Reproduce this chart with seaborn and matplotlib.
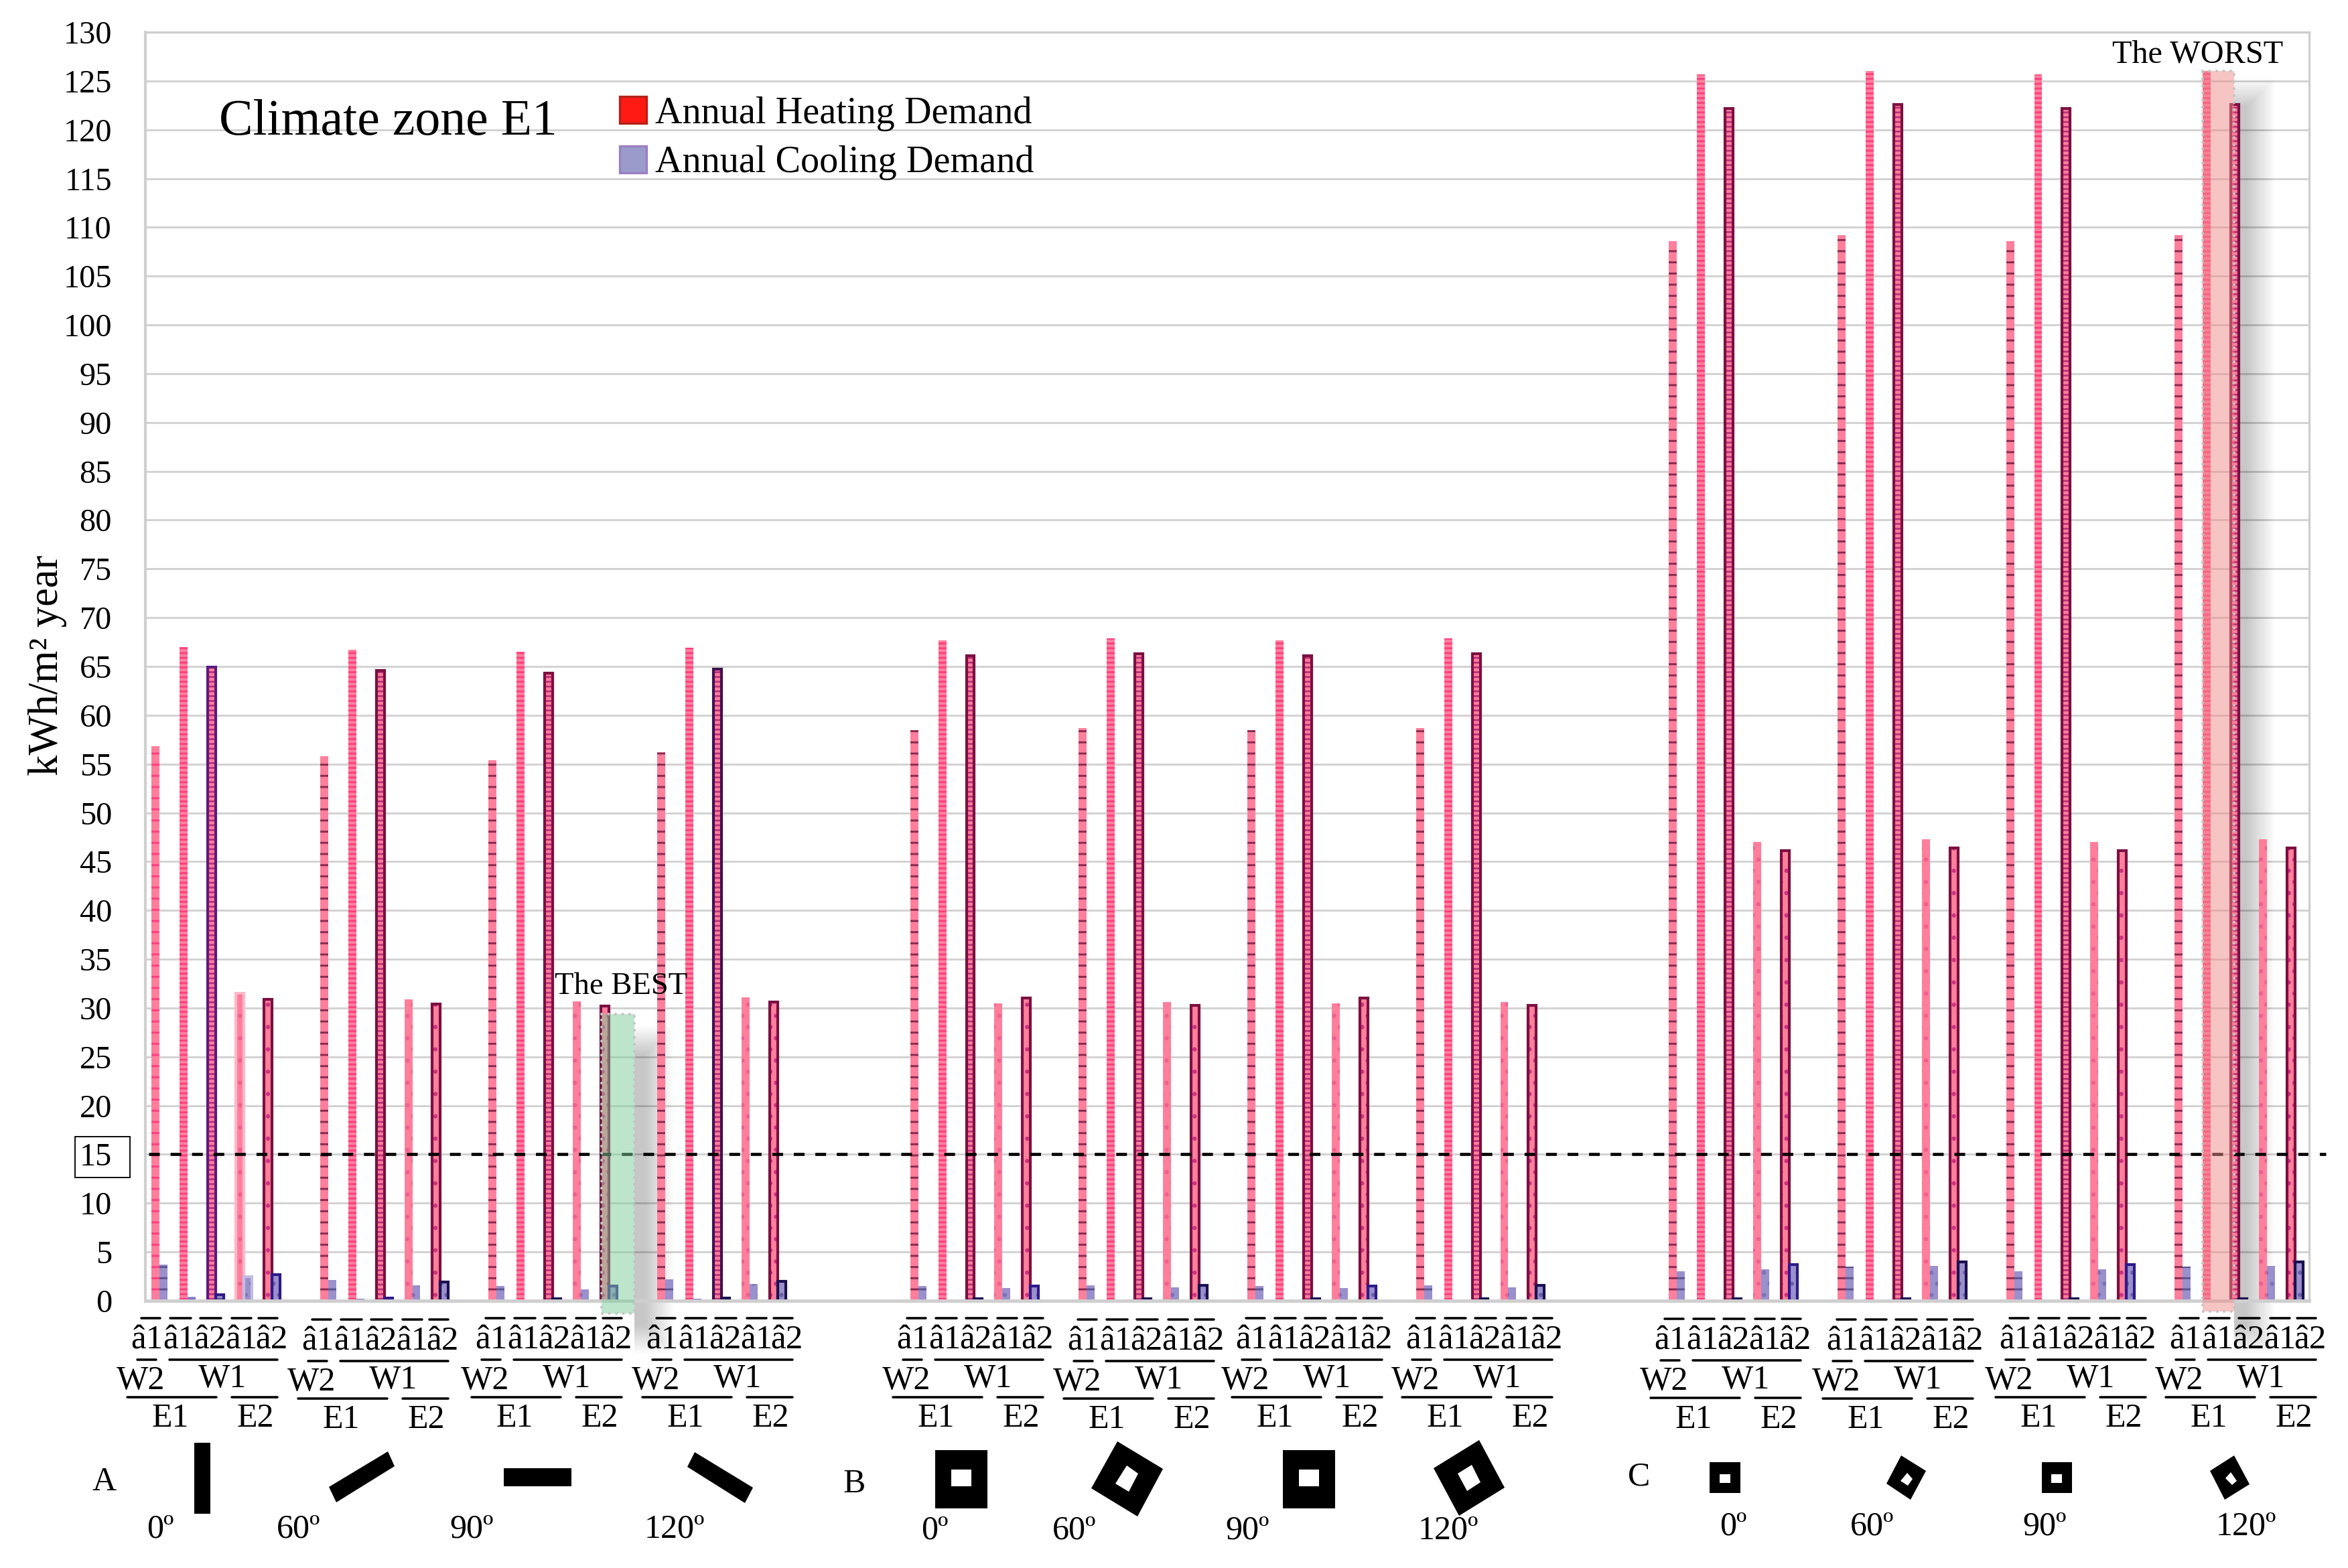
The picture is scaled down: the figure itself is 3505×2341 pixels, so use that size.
import pandas as pd
import seaborn as sns
import matplotlib.pyplot as plt
from matplotlib.lines import Line2D
from matplotlib.patches import Patch, Polygon, Rectangle
from matplotlib.transforms import Affine2D

heating_A = [56.8, 67.0, 64.9, 31.5, 30.9,
             55.8, 66.7, 64.6, 30.9, 30.4,
             55.4, 66.5, 64.3, 30.7, 30.2,
             56.2, 66.9, 64.7, 31.1, 30.6]
cooling_A = [3.7, 0.4, 0.6, 2.5, 2.7,
             2.1, 0.2, 0.3, 1.6, 1.9,
             1.5, 0.1, 0.2, 1.2, 1.5,
             2.2, 0.2, 0.3, 1.7, 2.0]
heating_B = [58.5, 67.7, 66.1, 30.5, 31.0,
             58.7, 67.9, 66.3, 30.6, 30.3,
             58.5, 67.7, 66.1, 30.5, 31.0,
             58.7, 67.9, 66.3, 30.6, 30.3]
cooling_B = [1.5, 0.1, 0.2, 1.3, 1.5,
             1.6, 0.1, 0.2, 1.4, 1.6,
             1.5, 0.1, 0.2, 1.3, 1.5,
             1.6, 0.1, 0.2, 1.4, 1.6]
heating_C = [108.6, 125.7, 122.2, 47.0, 46.1,
             109.2, 126.0, 122.6, 47.3, 46.4,
             108.6, 125.7, 122.2, 47.0, 46.1,
             109.2, 126.0, 122.6, 47.3, 46.4]
cooling_C = [3.0, 0.1, 0.2, 3.2, 3.7,
             3.5, 0.1, 0.2, 3.6, 4.0,
             3.0, 0.1, 0.2, 3.2, 3.7,
             3.5, 0.1, 0.2, 3.6, 4.0]

group_starts = [0, 6, 12, 18, 27, 33, 39, 45, 54, 60, 66, 72]
n_slots = 77
series_names = ["Annual Heating Demand", "Annual Cooling Demand"]
beta_labels = ["â1", "â1", "â2", "â1", "â2"]
y_ticks = list(range(0, 135, 5))

# measured first-dash position of each group's label block, reference pixels
label_anchors = [(225, 1968), (480, 1970), (739, 1968), (994, 1968),
                 (1368, 1968), (1623, 1970), (1874, 1968), (2128, 1968),
                 (2499, 1969), (2756, 1970), (3014, 1968), (3268, 1968)]
angle_labels = [("0º", 239, 2296), ("60º", 446, 2296), ("90º", 704, 2296), ("120º", 1007, 2296),
                ("0º", 1395, 2298), ("60º", 1604, 2298), ("90º", 1862, 2298), ("120º", 2162, 2298),
                ("0º", 2587, 2292), ("60º", 2795, 2292), ("90º", 3052, 2292), ("120º", 3353, 2292)]
letters = [("A", 156, 2225), ("B", 1275, 2228), ("C", 2447, 2218)]

icons_black = [
    [(290, 2154), (314, 2154), (314, 2260), (290, 2260)],
    [(579, 2167), (589, 2189), (502, 2243), (491, 2220)],
    [(752, 2192), (853, 2192), (853, 2219), (752, 2219)],
    [(1037, 2168), (1124, 2221), (1112, 2244), (1026, 2190)],
    [(1396, 2165), (1474, 2165), (1474, 2252), (1396, 2252)],
    [(1668, 2152), (1736, 2193), (1698, 2264), (1629, 2222)],
    [(1915, 2165), (1993, 2165), (1993, 2252), (1915, 2252)],
    [(2208, 2150), (2246, 2221), (2178, 2263), (2140, 2192)],
    [(2552, 2183), (2598, 2183), (2598, 2229), (2552, 2229)],
    [(2838, 2173), (2875, 2196), (2852, 2239), (2816, 2215)],
    [(3048, 2183), (3093, 2183), (3093, 2229), (3048, 2229)],
    [(3335, 2173), (3358, 2216), (3321, 2239), (3299, 2196)],
]
icons_white = [
    [(1420, 2194), (1450, 2194), (1450, 2219), (1420, 2219)],
    [(1682, 2188), (1699, 2200), (1685, 2227), (1665, 2215)],
    [(1939, 2194), (1969, 2194), (1969, 2219), (1939, 2219)],
    [(2197, 2187), (2210, 2213), (2190, 2226), (2176, 2200)],
    [(2567, 2201), (2583, 2201), (2583, 2214), (2567, 2214)],
    [(2847, 2199), (2855, 2208), (2848, 2218), (2837, 2211)],
    [(3062, 2201), (3078, 2201), (3078, 2214), (3062, 2214)],
    [(3330, 2198), (3339, 2211), (3332, 2217), (3322, 2207)],
]

heating = heating_A + heating_B + heating_C
cooling = cooling_A + cooling_B + cooling_C
slots = [s + i for s in group_starts for i in range(5)]

df = pd.DataFrame({
    "slot": slots * 2,
    "value": heating + cooling,
    "series": [series_names[0]] * len(slots) + [series_names[1]] * len(slots),
})

W, H = 3505, 2341
sns.set_theme(style="white")
plt.rcParams["font.family"] = ["Liberation Serif", "DejaVu Serif"]
plt.rcParams["hatch.linewidth"] = 0.7

fig = plt.figure(figsize=(W / 300, H / 300), dpi=300)
ax = fig.add_axes([217 / W, (H - 1942) / H, 3230 / W, 1894 / H])
PX = Affine2D().scale(1 / W, -1 / H).translate(0, 1) + fig.transFigure

sns.barplot(data=df, x="slot", y="value", hue="series", order=list(range(n_slots)),
            hue_order=series_names, width=0.57, gap=0, dodge=True, legend=False, ax=ax)

ax.set_xlim(-0.5, n_slots - 0.5)
ax.set_ylim(0, 130)
ax.set_xticks([])
ax.set_xlabel("")
ax.set_ylabel("")
ax.set_yticks(y_ticks)
ax.set_yticklabels([str(t) for t in y_ticks], fontsize=11.6)
ax.tick_params(axis="y", length=0, pad=12, labelcolor="black")
ax.grid(axis="y", color="#d2d2d2", lw=0.7)
ax.set_axisbelow(True)
for name, spine in ax.spines.items():
    spine.set_visible(True)
    spine.set_color("#cfcfcf")
    spine.set_linewidth({"bottom": 1.2, "left": 1.0}.get(name, 0.8))

fill = ["#fe7f9c", "#9a90cc"]
pink_hatch = "#ff3f7f"
dark_hatch = "#8a2a50"
maroon = "#7a1040"

# bar styling by position within the five-bar cluster
for s_i, container in enumerate(ax.containers):
    for bar in container:
        slot = int(round(bar.get_x() + bar.get_width() / 2))
        group = max(g for g, s in enumerate(group_starts) if s <= slot)
        pos = slot - group_starts[group]
        bar.set_facecolor(fill[s_i])
        bar.set_linewidth(0)
        bar.set_zorder(2)
        outline = None
        if pos == 0:
            bar.set_hatch("---")
            if s_i == 0:
                bar.set_edgecolor(pink_hatch if group == 0 else dark_hatch)
            else:
                bar.set_edgecolor("#5a5590")
        elif pos == 1:
            bar.set_hatch("-" * 7)
            bar.set_edgecolor(pink_hatch if s_i == 0 else "#7c6fc0")
        elif pos == 2:
            bar.set_hatch("-" * 7)
            bar.set_edgecolor("#c0307a" if s_i == 0 else "#5a5590")
            if s_i == 0:
                outline = "#5c1a80" if group == 0 else ("#3e1150" if group == 3 else maroon)
            else:
                outline = "#2e1a8a" if group < 2 else "#1a1050"
        elif pos == 3:
            bar.set_hatch("...")
            bar.set_edgecolor("#f0608c" if s_i == 0 else "#7c72b8")
            if group == 0:
                outline = "#ffb6c8" if s_i == 0 else "#c4bce2"
        else:
            bar.set_hatch("...")
            bar.set_edgecolor("#d03080" if s_i == 0 else "#6a60a8")
            outline = maroon if s_i == 0 else ("#2e1a8a" if group % 2 == 0 else "#1a1050")
        if outline:
            ax.add_patch(Rectangle(bar.get_xy(), bar.get_width(), bar.get_height(), fill=False,
                                   edgecolor=outline, lw=1.0, zorder=2.2))


def soft_shadow(x0, y0, x1, y1, blur):
    # left side stays hard against the highlight box, other sides fade
    steps = 14
    for k in range(steps):
        d = blur * (k / (steps - 1) - 0.5)
        ax.add_patch(Rectangle((x0, y0 + d), x1 - x0 - d, y1 - y0 - 2 * d, fc="black",
                               ec="none", alpha=0.016, transform=PX, clip_on=False, zorder=1))


def highlight(x0, y0, x1, y1, color):
    ax.add_patch(Rectangle((x0, y0), x1 - x0, y1 - y0, fc=color, ec="none", alpha=0.5,
                           transform=PX, clip_on=False, zorder=3))
    ax.add_patch(Rectangle((x0, y0), x1 - x0, y1 - y0, fill=False, ec="#c4c4c4", lw=1.0,
                           ls=(0, (0.01, 2.5)), capstyle="round", transform=PX,
                           clip_on=False, zorder=3.1))


soft_shadow(947, 1552, 985, 2000, 40)
highlight(898, 1514, 947, 1961, "#7ccd9a")
soft_shadow(3335, 138, 3375, 2000, 40)
highlight(3288, 106, 3335, 1958, "#f08a8a")

ax.axhline(15, xmin=0.0015, xmax=1.0077, color="black", lw=1.1, ls=(0, (3.5, 3.5)), clip_on=False, zorder=2.5)

fig.add_artist(Rectangle((112, 1697), 82, 61, fill=False, ec="black", lw=0.45, transform=PX))

fig.text(71, 993, "kWh/m² year", transform=PX, rotation=90, ha="center", va="center", fontsize=15.0, color="black")
fig.text(327, 183, "Climate zone E1", transform=PX, ha="left", va="center", fontsize=18.2, color="black")
fig.text(828, 1484, "The BEST", transform=PX, ha="left", va="baseline", fontsize=11.2, color="black")
fig.text(3153, 93, "The WORST", transform=PX, ha="left", va="baseline", fontsize=11.6, color="black")

handles = [Patch(fc="#ff1a14", ec="#b5211b", lw=0.8), Patch(fc="#9a9acb", ec="#9a80c0", lw=0.8)]
ax.legend(handles, series_names, loc="upper left", bbox_to_anchor=(925, 144), bbox_transform=PX,
          frameon=False, fontsize=13.5, borderpad=0, borderaxespad=0, handlelength=0.71,
          handleheight=0.71, handletextpad=0.23, labelspacing=0.38, labelcolor="black")

# overline rows and labels under each group, offsets relative to the first dash
dash_dx = [(-14, 14), (29, 60), (74, 105), (121, 150), (161, 189)]
beta_dx = [-6, 42, 88, 135, 180]
for ax0, ay0 in label_anchors:
    for (a, b), dx, lab in zip(dash_dx, beta_dx, beta_labels):
        fig.add_artist(Line2D([ax0 + a, ax0 + b], [ay0, ay0], transform=PX, color="black", lw=0.85))
        fig.text(ax0 + dx, ay0 + 45.5, lab, transform=PX, ha="center", va="baseline", fontsize=12.3, color="black")
    for a, b in [(-20, 8), (28, 189)]:
        fig.add_artist(Line2D([ax0 + a, ax0 + b], [ay0 + 61.5] * 2, transform=PX, color="black", lw=0.85))
    for a, b in [(-35, 98), (121, 189)]:
        fig.add_artist(Line2D([ax0 + a, ax0 + b], [ay0 + 117.5] * 2, transform=PX, color="black", lw=0.85))
    fig.text(ax0 - 15, ay0 + 106, "W2", transform=PX, ha="center", va="baseline", fontsize=12, color="black")
    fig.text(ax0 + 107, ay0 + 103.5, "W1", transform=PX, ha="center", va="baseline", fontsize=12, color="black")
    fig.text(ax0 + 29, ay0 + 162.5, "E1", transform=PX, ha="center", va="baseline", fontsize=12, color="black")
    fig.text(ax0 + 156, ay0 + 162.5, "E2", transform=PX, ha="center", va="baseline", fontsize=12, color="black")

for lab, x, y in angle_labels + letters:
    fig.text(x, y, lab, transform=PX, ha="center", va="baseline", fontsize=12, color="black")
for pts in icons_black:
    fig.add_artist(Polygon(pts, closed=True, fc="black", ec="none", transform=PX))
for pts in icons_white:
    fig.add_artist(Polygon(pts, closed=True, fc="white", ec="none", transform=PX, zorder=3))

fig.savefig("out.png", dpi=300, facecolor="white")
